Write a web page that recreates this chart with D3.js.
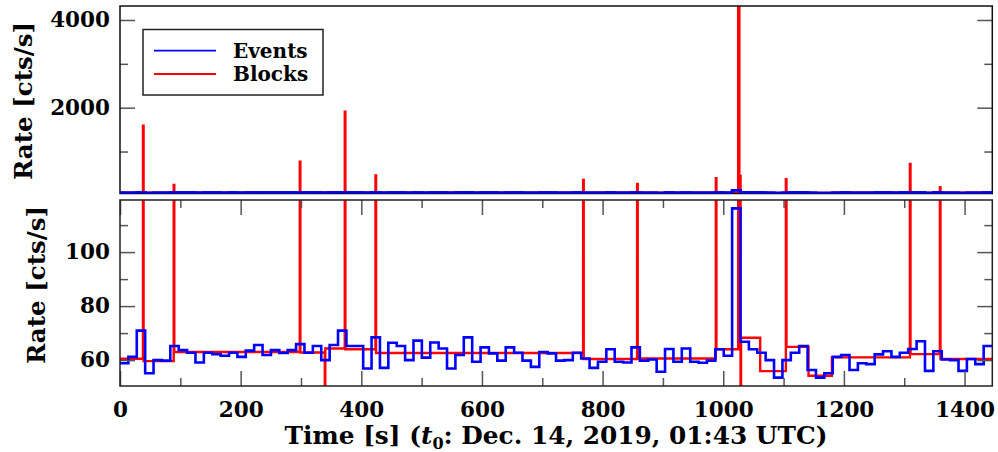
<!DOCTYPE html>
<html>
<head>
<meta charset="utf-8">
<script src="https://cdn.jsdelivr.net/npm/d3@7"></script>
<style>
  html, body { margin: 0; padding: 0; background: #fff; }
  svg { display: block; }
  text { font-family: "DejaVu Serif", serif; font-weight: bold; fill: #000; }
</style>
</head>
<body>
<svg id="chart" width="998" height="452"></svg>
<script>
// ---------------- data ----------------
const binWidth = 13.9; // seconds per event bin
const eventRates = [
  58.8, 61.2, 70.9, 55.1, 60.0, 59.8, 65.2, 63.7, 62.7, 59.1,
  62.7, 62.2, 61.6, 62.7, 61.2, 63.5, 65.6, 61.9, 63.7, 62.6,
  63.7, 65.9, 62.7, 65.2, 60.0, 65.6, 70.9, 65.2, 65.2, 56.9,
  68.4, 57.1, 66.4, 65.2, 60.0, 67.2, 60.9, 66.5, 64.3, 56.9,
  61.9, 68.4, 59.4, 64.7, 62.5, 59.8, 64.7, 62.7, 59.8, 57.5,
  63.0, 62.5, 59.8, 60.0, 62.7, 60.6, 57.1, 59.4, 64.0, 59.4,
  59.1, 64.7, 59.8, 60.2, 55.7, 64.1, 59.4, 64.3, 59.4, 59.0,
  59.8, 64.0, 61.6, 116.2, 66.8, 64.0, 62.7, 60.0, 53.5, 60.0,
  62.7, 65.2, 56.3, 53.5, 55.1, 61.2, 61.9, 56.3, 58.8, 58.5,
  62.1, 63.3, 61.2, 62.7, 64.1, 67.0, 56.0, 63.3, 60.2, 60.0,
  56.0, 60.4, 58.5, 65.2
];
const blockEdges = [
  0, 38.1, 39.1, 89.0, 90.0, 298.0, 299.0, 339.5, 340.3, 372.6,
  373.6, 423.5, 424.5, 767.7, 768.7, 857.2, 858.2, 987.7, 988.7, 1024.7,
  1026.7, 1028.7, 1029.5, 1061.2, 1103.8, 1104.8, 1141.3, 1180.1, 1309.4, 1310.4,
  1359.1, 1360.1, 1446
];
const blockRates = [
  60.5, 1592, 59.6, 240, 63.0, 771, 62.8, 25, 64.3, 1911,
  64.0, 452, 62.6, 354, 60.4, 262, 60.6, 392, 64.0, 4500,
  445, 20, 68.3, 55.9, 369, 64.9, 54.2, 61.0, 718, 62.2,
  187, 60.4
];
const xMajorTicks = [0, 200, 400, 600, 800, 1000, 1200, 1400];
const xMinorTicks = [100, 300, 500, 700, 900, 1100, 1300];
const yTopMajorTicks = [2000, 4000];
const yTopMinorTicks = [1000, 3000];
const yBotMajorTicks = [60, 80, 100];
const yBotMinorTicks = [70, 90, 110];
const seriesNames = ["Events", "Blocks"];
const seriesColors = ["#0000ff", "#ff0000"];

// ---------------- layout ----------------
const svg = d3.select("#chart");
const L = 120, R = 992.3;
const topP = {y0: 6, y1: 193.5};
const botP = {y0: 200, y1: 386};

const x = d3.scaleLinear().domain([0, 1446]).range([L, R]);
const yTop = d3.scaleLinear().domain([43, 4319]).range([topP.y1, topP.y0]);
const yBot = d3.scaleLinear().domain([50.4, 119.3]).range([botP.y1, botP.y0]);

// step data
const eventPts = eventRates.map((v, i) => [i * binWidth, v]);
eventPts.push([eventRates.length * binWidth, eventRates[eventRates.length - 1]]);
const blockPts = blockRates.map((v, i) => [blockEdges[i], v]);
blockPts.push([blockEdges[blockEdges.length - 1], blockRates[blockRates.length - 1]]);

const defs = svg.append("defs");
defs.append("clipPath").attr("id", "clipTop").append("rect")
  .attr("x", L).attr("y", topP.y0).attr("width", R - L).attr("height", topP.y1 - topP.y0);
defs.append("clipPath").attr("id", "clipBot").append("rect")
  .attr("x", L).attr("y", botP.y0).attr("width", R - L).attr("height", botP.y1 - botP.y0);

function drawPanel(yScale, clipId) {
  const line = d3.line().x(d => x(d[0])).y(d => yScale(d[1])).curve(d3.curveStepAfter);
  const g = svg.append("g").attr("clip-path", `url(#${clipId})`);
  g.append("path").attr("d", line(blockPts))
    .attr("fill", "none").attr("stroke", seriesColors[1]).attr("stroke-width", 2.4);
  g.append("path").attr("d", line(eventPts))
    .attr("fill", "none").attr("stroke", seriesColors[0]).attr("stroke-width", 2.6);
}

function styleAxis(g) {
  g.select(".domain").remove();
  g.selectAll(".tick line").attr("stroke", "#555").attr("stroke-width", 1.5);
  g.selectAll(".tick text").style("font-family", "DejaVu Serif").style("font-weight", "bold")
    .style("font-size", "21.5px").attr("fill", "#000");
}

drawPanel(yTop, "clipTop");
drawPanel(yBot, "clipBot");

// top panel axes
svg.append("g").attr("transform", `translate(${L},0)`)
  .call(d3.axisLeft(yTop).tickValues(yTopMajorTicks).tickSize(-15).tickPadding(10).tickFormat(d3.format("d")))
  .call(styleAxis);
svg.append("g").attr("transform", `translate(${L},0)`)
  .call(d3.axisLeft(yTop).tickValues(yTopMinorTicks).tickSize(-8).tickFormat(""))
  .call(styleAxis);
svg.append("g").attr("transform", `translate(${R},0)`)
  .call(d3.axisRight(yTop).tickValues(yTopMajorTicks).tickSize(-15).tickFormat(""))
  .call(styleAxis);
svg.append("g").attr("transform", `translate(${R},0)`)
  .call(d3.axisRight(yTop).tickValues(yTopMinorTicks).tickSize(-8).tickFormat(""))
  .call(styleAxis);

// bottom panel axes
svg.append("g").attr("transform", `translate(${L},0)`)
  .call(d3.axisLeft(yBot).tickValues(yBotMajorTicks).tickSize(-15).tickPadding(10).tickFormat(d3.format("d")))
  .call(styleAxis);
svg.append("g").attr("transform", `translate(${L},0)`)
  .call(d3.axisLeft(yBot).tickValues(yBotMinorTicks).tickSize(-8).tickFormat(""))
  .call(styleAxis);
svg.append("g").attr("transform", `translate(${R},0)`)
  .call(d3.axisRight(yBot).tickValues(yBotMajorTicks).tickSize(-15).tickFormat(""))
  .call(styleAxis);
svg.append("g").attr("transform", `translate(${R},0)`)
  .call(d3.axisRight(yBot).tickValues(yBotMinorTicks).tickSize(-8).tickFormat(""))
  .call(styleAxis);

const xb = svg.append("g").attr("transform", `translate(0,${botP.y1})`)
  .call(d3.axisBottom(x).tickValues(xMajorTicks).tickSize(-15).tickFormat(d3.format("d")))
  .call(styleAxis);
xb.selectAll(".tick text").attr("y", 31).attr("dy", null);
svg.append("g").attr("transform", `translate(0,${botP.y1})`)
  .call(d3.axisBottom(x).tickValues(xMinorTicks).tickSize(-8).tickFormat(""))
  .call(styleAxis);
svg.append("g").attr("transform", `translate(0,${botP.y0})`)
  .call(d3.axisTop(x).tickValues(xMajorTicks).tickSize(-15).tickFormat(""))
  .call(styleAxis);
svg.append("g").attr("transform", `translate(0,${botP.y0})`)
  .call(d3.axisTop(x).tickValues(xMinorTicks).tickSize(-8).tickFormat(""))
  .call(styleAxis);

// frames
svg.append("rect").attr("x", L).attr("y", topP.y0).attr("width", R - L).attr("height", topP.y1 - topP.y0)
  .attr("fill", "none").attr("stroke", "#111").attr("stroke-width", 1.5);
svg.append("rect").attr("x", L).attr("y", botP.y0).attr("width", R - L).attr("height", botP.y1 - botP.y0)
  .attr("fill", "none").attr("stroke", "#222").attr("stroke-width", 1.5);

// redraw blue over the bottom edge of the top frame
(function () {
  const line = d3.line().x(d => x(d[0])).y(d => yTop(d[1])).curve(d3.curveStepAfter);
  svg.append("g").attr("clip-path", "url(#clipTop)").append("path").attr("d", line(eventPts))
    .attr("fill", "none").attr("stroke", seriesColors[0]).attr("stroke-width", 2.6);
})();

// axis titles
svg.append("text").attr("transform", `translate(32,101) rotate(-90)`)
  .attr("text-anchor", "middle").style("font-size", "24.5px").text("Rate [cts/s]");
svg.append("text").attr("transform", `translate(45,285) rotate(-90)`)
  .attr("text-anchor", "middle").style("font-size", "24.5px").text("Rate [cts/s]");
const xt = svg.append("text").attr("x", 556).attr("y", 444)
  .attr("text-anchor", "middle").style("font-size", "24.8px");
xt.append("tspan").text("Time [s] (");
xt.append("tspan").style("font-style", "italic").text("t");
xt.append("tspan").attr("dy", 5).style("font-size", "16px").text("0");
xt.append("tspan").attr("dy", -5).text(": Dec. 14, 2019, 01:43 UTC)");

// legend
const lg = svg.append("g");
lg.append("rect").attr("x", 143).attr("y", 29.5).attr("width", 180).attr("height", 65.5)
  .attr("fill", "#fff").attr("stroke", "#222").attr("stroke-width", 1.5);
seriesNames.forEach((name, i) => {
  const yy = 50.7 + i * 23.3;
  lg.append("line").attr("x1", 154).attr("x2", 216).attr("y1", yy).attr("y2", yy)
    .attr("stroke", seriesColors[i]).attr("stroke-width", 1.8);
  lg.append("text").attr("x", 233).attr("y", yy + 7).style("font-size", "20px").text(name);
});
</script>
</body>
</html>
